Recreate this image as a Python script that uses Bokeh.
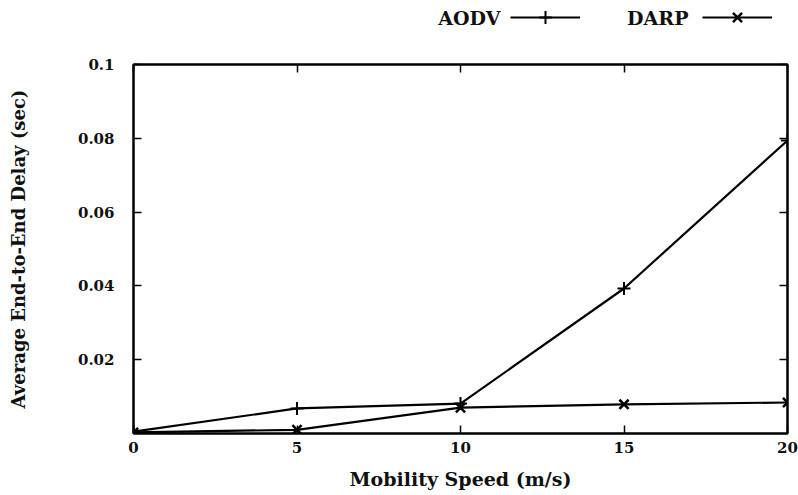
from bokeh.plotting import figure
from bokeh.models import (Range1d, FixedTicker, LinearAxis, Legend, LegendItem, Label,
                          ColumnDataSource)
from bokeh.layouts import column
from bokeh.embed import file_html
from bokeh.resources import INLINE

speed = [0, 5, 10, 15, 20]
aodv = [0.0005, 0.0068, 0.0081, 0.0393, 0.0794]
darp = [0.0003, 0.0010, 0.0070, 0.0079, 0.0084]
x_ticks = [0, 5, 10, 15, 20]
y_ticks = [0.02, 0.04, 0.06, 0.08, 0.1]
series_names = ["AODV", "DARP"]

FONT = "DejaVu Serif"
W = 798
LEG_H = 34
BL, BR = 133, 11

# ---------------- main plot ----------------
p = figure(width=W, height=495 - LEG_H, output_backend="svg", toolbar_location=None,
           x_range=Range1d(0, 20), y_range=Range1d(0, 0.1),
           min_border_left=BL, min_border_right=BR, min_border_top=30, min_border_bottom=62)
p.grid.visible = False
p.outline_line_color = "black"
p.outline_line_width = 2
p.background_fill_color = "white"
p.border_fill_color = "white"

for ax in (p.xaxis[0], p.yaxis[0]):
    ax.major_tick_in = 8
    ax.major_tick_out = 0
    ax.minor_tick_line_color = None
    ax.axis_line_width = 2
    ax.major_tick_line_width = 1.5
    ax.major_label_text_font = FONT
    ax.major_label_text_font_size = "15px"
    ax.major_label_text_font_style = "bold"
    ax.major_label_text_color = "#111111"
    ax.axis_label_text_font = FONT
    ax.axis_label_text_font_style = "bold"
    ax.axis_label_text_color = "#111111"

p.xaxis[0].ticker = FixedTicker(ticks=x_ticks)
p.yaxis[0].ticker = FixedTicker(ticks=y_ticks)
p.yaxis[0].major_label_overrides = {0.1: "0.1"}
p.xaxis[0].axis_label = "Mobility Speed (m/s)"
p.yaxis[0].axis_label = "Average End-to-End Delay (sec)"
p.xaxis[0].axis_label_text_font_size = "19px"
p.yaxis[0].axis_label_text_font_size = "18px"
p.xaxis[0].major_label_standoff = 8
p.yaxis[0].major_label_standoff = 19
p.xaxis[0].axis_label_standoff = 12
p.yaxis[0].axis_label_standoff = 46

mirror = dict(major_label_text_color=None, major_label_standoff=0,
              major_tick_in=8, major_tick_out=0, minor_tick_line_color=None,
              axis_line_width=2, major_tick_line_width=1.5)
right = LinearAxis(ticker=FixedTicker(ticks=y_ticks), **mirror)
top = LinearAxis(ticker=FixedTicker(ticks=x_ticks), **mirror)
p.add_layout(right, "right")
p.add_layout(top, "above")

src = ColumnDataSource(dict(speed=speed, aodv=aodv, darp=darp))
p.line("speed", "aodv", source=src, line_color="black", line_width=2.2)
p.scatter("speed", "aodv", source=src, marker="cross", size=13, line_color="black", line_width=2)
p.line("speed", "darp", source=src, line_color="black", line_width=2.2)
p.scatter("speed", "darp", source=src, marker="x", size=13, line_color="black", line_width=2.5)

# ---------------- key (top strip) ----------------
# same x scale as the main plot; the y window sits far above the data so the
# series themselves are not visible here, only their legend samples
KY0 = 100
k = figure(width=W, height=LEG_H, output_backend="svg", toolbar_location=None,
           x_range=Range1d(0, 20), y_range=Range1d(KY0, KY0 + LEG_H),
           min_border_left=BL, min_border_right=BR, min_border_top=0, min_border_bottom=0,
           outline_line_color=None)
k.axis.visible = False
k.grid.visible = False
ka1 = k.line("speed", "aodv", source=src, line_color="black", line_width=2.2)
ks1 = k.scatter("speed", "aodv", source=src, marker="cross", size=13,
                line_color="black", line_width=2)
ka2 = k.line("speed", "darp", source=src, line_color="black", line_width=2.2)
ks2 = k.scatter("speed", "darp", source=src, marker="x", size=13,
                line_color="black", line_width=2.5)

for name, rends, text_right, glyph_x in [(series_names[0], [ka1, ks1], 11.22, 377),
                                         (series_names[1], [ka2, ks2], 16.97, 569)]:
    leg = Legend(items=[LegendItem(label=" ", renderers=rends)], location=(glyph_x, 1),
                 glyph_width=70, glyph_height=32, padding=0, margin=0, spacing=0,
                 label_width=0, label_standoff=0, border_line_color=None,
                 background_fill_alpha=0, label_text_alpha=0)
    k.add_layout(leg, "center")
    k.add_layout(Label(x=text_right, y=KY0 + 17, text=name, text_align="right",
                       text_baseline="middle", text_font=FONT, text_font_size="19px",
                       text_font_style="bold", text_color="#111111"))

layout = column(k, p, spacing=0)
open("out.html", "w").write(file_html(layout, INLINE))
